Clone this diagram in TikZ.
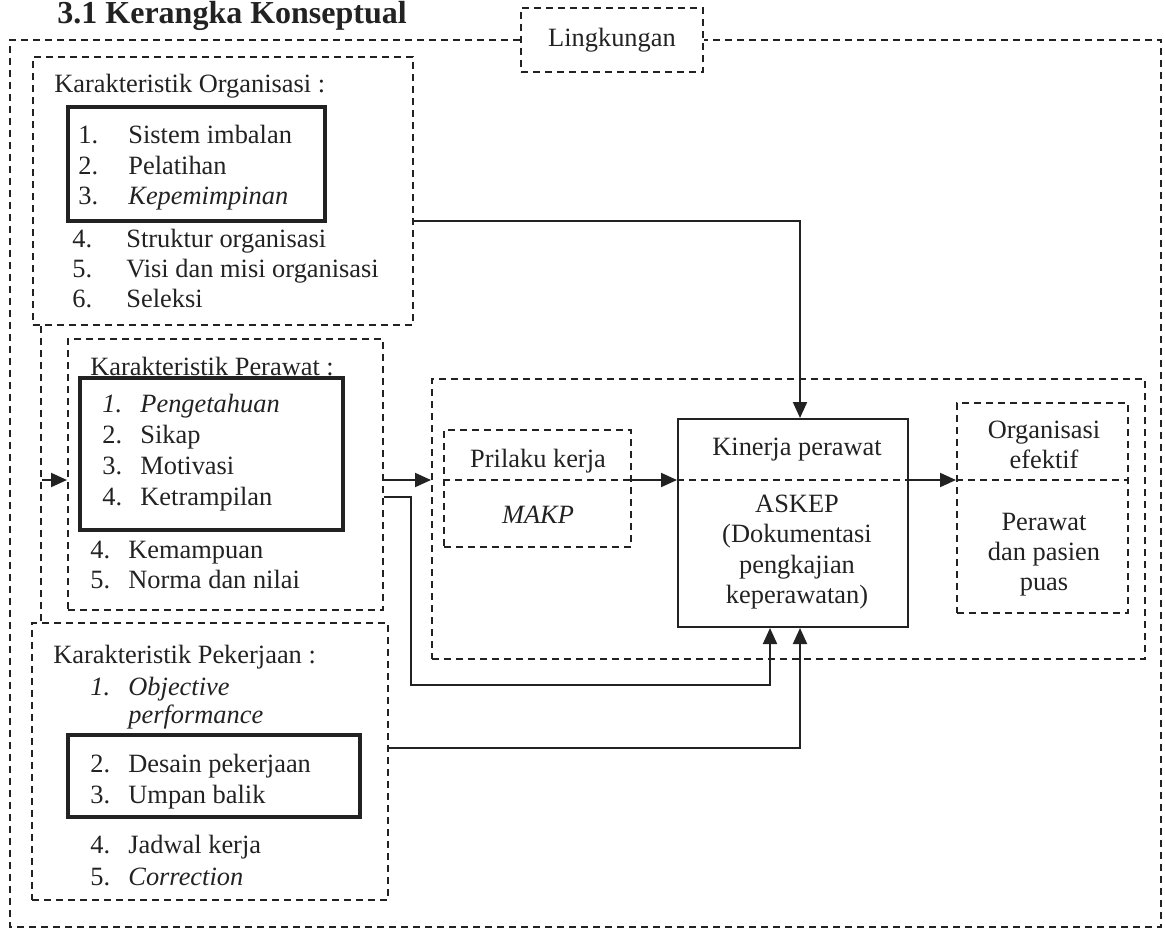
\documentclass[tikz,border=0pt]{standalone}
\usepackage{fontspec}
\setmainfont{Liberation Serif}
\usepackage{tikz}
\usetikzlibrary{arrows.meta}
\definecolor{ink}{HTML}{222222}

\tikzset{
  dbox/.style={draw=ink, line width=1pt, dash pattern=on 3.5pt off 2.5pt, rectangle, inner sep=0pt},
  dline/.style={draw=ink, line width=1pt, dash pattern=on 3.5pt off 2.5pt},
  hbox/.style={draw=ink, line width=2.2pt, rectangle, inner sep=0pt},
  sbox/.style={draw=ink, line width=1pt, rectangle, inner sep=0pt},
  txt/.style={anchor=base west, inner sep=0pt, text=ink},
  ctxt/.style={anchor=base, inner sep=0pt, text=ink},
  conn/.style={draw=ink, line width=1pt},
  arr/.style={draw=ink, line width=1pt, -{Triangle[length=8pt,width=7pt]}}
}

\begin{document}
\begin{tikzpicture}[x=0.5pt, y=-0.5pt, font=\fontsize{13.2}{15.5}\selectfont]
    \useasboundingbox (0,0) rectangle (1165,932);

    \node[txt, font=\fontsize{16}{18}\selectfont\bfseries] (title) at (57,23) {3.1 Kerangka Konseptual};

    % lingkungan
    \node[dbox, minimum width=91pt, minimum height=32pt, text=ink] (ling) at (612,40) {Lingkungan};
    \coordinate (oSW) at (10,927);
    \coordinate (oSE) at (1161,927);
    \draw[dline] (ling.west) -| (oSW) -- (oSE) |- (ling.east);

    % karakteristik organisasi
    \node[dbox, minimum width=190pt, minimum height=134pt] (org) at (223,191) {};
    \node[txt] (orgT) at (54,92) {Karakteristik Organisasi :};
    \node[hbox, minimum width=128.5pt, minimum height=57pt] (orgK) at (196.5,164) {};
    \node[txt] (o1n) at (78,143) {1.};
    \node[txt] (o1) at (128,143) {Sistem imbalan};
    \node[txt] (o2n) at (78,174) {2.};
    \node[txt] (o2) at (128,174) {Pelatihan};
    \node[txt] (o3n) at (78,204) {3.};
    \node[txt] (o3) at (128,204) {\textit{Kepemimpinan}};
    \node[txt] (o4n) at (72,247) {4.};
    \node[txt] (o4) at (126,247) {Struktur organisasi};
    \node[txt] (o5n) at (72,277) {5.};
    \node[txt] (o5) at (126,277) {Visi dan misi organisasi};
    \node[txt] (o6n) at (72,307) {6.};
    \node[txt] (o6) at (126,307) {Seleksi};

    % karakteristik perawat
    \node[dbox, minimum width=157.5pt, minimum height=135.5pt] (per) at (225.5,474.5) {};
    \node[txt] (perT) at (90,375) {Karakteristik Perawat :};
    \node[hbox, minimum width=131.5pt, minimum height=76pt] (perK) at (211.5,454) {};
    \node[txt] (p1n) at (102,412) {\textit{1.}};
    \node[txt] (p1) at (140,412) {\textit{Pengetahuan}};
    \node[txt] (p2n) at (102,443) {2.};
    \node[txt] (p2) at (140,443) {Sikap};
    \node[txt] (p3n) at (102,474) {3.};
    \node[txt] (p3) at (140,474) {Motivasi};
    \node[txt] (p4n) at (102,505) {4.};
    \node[txt] (p4) at (140,505) {Ketrampilan};
    \node[txt] (p5n) at (90,558) {4.};
    \node[txt] (p5) at (128,558) {Kemampuan};
    \node[txt] (p6n) at (90,588) {5.};
    \node[txt] (p6) at (128,588) {Norma dan nilai};

    % karakteristik pekerjaan
    \node[dbox, minimum width=178pt, minimum height=138.5pt] (pek) at (210,761.5) {};
    \node[txt] (pekT) at (53,663) {Karakteristik Pekerjaan :};
    \node[txt] (k1n) at (90,695) {\textit{1.}};
    \node[txt] (k1) at (128,695) {\textit{Objective}};
    \node[txt] (k1b) at (128,723) {\textit{performance}};
    \node[hbox, minimum width=146pt, minimum height=41pt] (pekK) at (214,776) {};
    \node[txt] (k2n) at (90,772) {2.};
    \node[txt] (k2) at (128,772) {Desain pekerjaan};
    \node[txt] (k3n) at (90,803) {3.};
    \node[txt] (k3) at (128,803) {Umpan balik};
    \node[txt] (k4n) at (90,853) {4.};
    \node[txt] (k4) at (128,853) {Jadwal kerja};
    \node[txt] (k5n) at (90,885) {5.};
    \node[txt] (k5) at (128,885) {\textit{Correction}};

    % feedback line on the left
    \coordinate (fb) at (42,480);
    \draw[dline] ([xshift=4.5pt]org.south west) -- ([xshift=5pt]pek.north west);
    \draw[arr] (fb) -- (per.west |- fb);

    % proses
    \coordinate (mid) at (0,480);
    \node[dbox, minimum width=356.5pt, minimum height=140pt] (proc) at (788.5,519) {};
    \node[dbox, minimum width=93.5pt, minimum height=58.5pt] (pri) at (537.5,488.5) {};
    \node[sbox, minimum width=115pt, minimum height=104pt] (kin) at (793,523) {};
    \node[dbox, minimum width=85.5pt, minimum height=105pt] (efk) at (1042.5,508) {};

    \draw[dline] (pri.west |- mid) -- (pri.east |- mid);
    \draw[dline] (kin.west |- mid) -- (kin.east |- mid);
    \draw[dline] (efk.west |- mid) -- (efk.east |- mid);

    \node[ctxt] (priA) at (538,467) {Prilaku kerja};
    \node[ctxt] (priB) at (538,523) {\textit{MAKP}};

    \node[ctxt] (kinA) at (797,455) {Kinerja perawat};
    \node[ctxt] (kinB) at (797,512) {ASKEP};
    \node[ctxt] (kinC) at (797,542.5) {(Dokumentasi};
    \node[ctxt] (kinD) at (797,573) {pengkajian};
    \node[ctxt] (kinE) at (797,603.5) {keperawatan)};

    \node[ctxt] (efkA) at (1044,438) {Organisasi};
    \node[ctxt] (efkB) at (1044,468) {efektif};
    \node[ctxt] (efkC) at (1044,530) {Perawat};
    \node[ctxt] (efkD) at (1044,560) {dan pasien};
    \node[ctxt] (efkE) at (1044,590) {puas};

    % connectors
    \draw[arr] (per.east |- mid) -- (proc.west |- mid);
    \draw[arr] (pri.east |- mid) -- (kin.west |- mid);
    \draw[arr] (kin.east |- mid) -- (efk.west |- mid);

    \draw[arr] (org.east |- 0,221) -| ([xshift=3.5pt]kin.north);
    \draw[arr] (per.east |- 0,497) -| (411,685) -| ([xshift=-11.5pt]kin.south);
    \draw[arr] (pek.east |- 0,748) -| ([xshift=3.5pt]kin.south);
\end{tikzpicture}
\end{document}
